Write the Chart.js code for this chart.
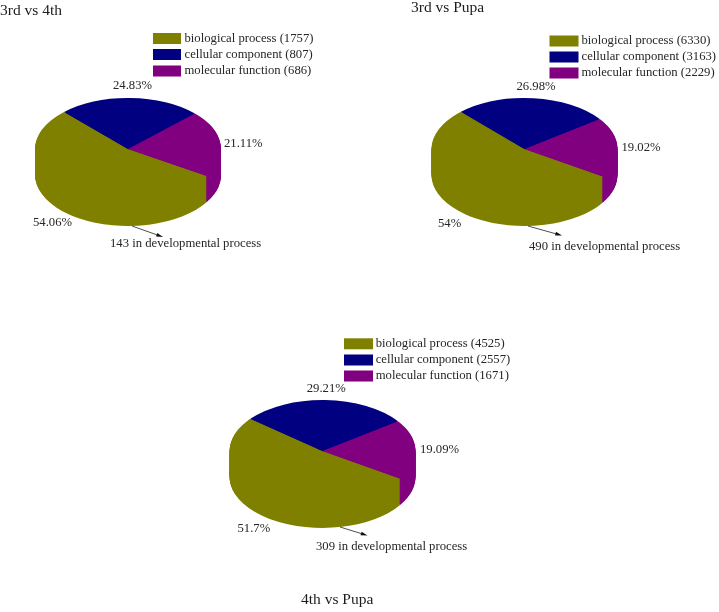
<!DOCTYPE html>
<html>
<head>
<meta charset="utf-8">
<script src="https://cdn.jsdelivr.net/npm/chart.js@4"></script>
<style>
html,body{margin:0;padding:0;background:#fff;width:719px;height:612px;overflow:hidden}
canvas{position:absolute;left:0;top:0}
</style>
</head>
<body>
<canvas id="c0"></canvas><canvas id="c1"></canvas><canvas id="c2"></canvas>
<script>
const categories = ['biological process', 'cellular component', 'molecular function'];
const colors = ['#808000', '#000080', '#800080'];
const titles = ['3rd vs 4th', '3rd vs Pupa', '4th vs Pupa'];
const counts3rdVs4th = [1757, 807, 686];
const counts3rdVsPupa = [6330, 3163, 2229];
const counts4thVsPupa = [4525, 2557, 1671];
const percents3rdVs4th = ['54.06%', '24.83%', '21.11%'];
const percents3rdVsPupa = ['54%', '26.98%', '19.02%'];
const percents4thVsPupa = ['51.7%', '29.21%', '19.09%'];
const devNotes = ['143 in developmental process', '490 in developmental process', '309 in developmental process'];

const W = 719, H = 612, RX = 93, FLAT = 0.548, DEPTH = 26;
const FONT = '"Liberation Serif", "Times New Roman", serif';
const INK = '#262626';

const layouts = [
  { cx: 128, cy: 149, rot: 122, title: [0, 11], swatchX: 153, swatchW: 28, swatchH: 11,
    legendY: [38.5, 54.5, 71], textX: 184.5,
    pct: [[33, 223], [113, 86], [224, 144]], note: [110, 244], arrow: [132, 226, 163, 237] },
  { cx: 524.5, cy: 149, rot: 122.5, title: [411, 8], swatchX: 549.5, swatchW: 29, swatchH: 11,
    legendY: [41, 57, 73], textX: 581.5,
    pct: [[438, 223.5], [516.5, 86.5], [621.5, 147.5]], note: [529, 247], arrow: [528, 226, 562, 235.5] },
  { cx: 322.5, cy: 451, rot: 123, title: [301, 600], swatchX: 344, swatchW: 29, swatchH: 11,
    legendY: [343.8, 360, 376], textX: 375.7,
    pct: [[237.5, 529], [306.7, 388.3], [420, 450]], note: [316, 546.5], arrow: [340, 527, 367.5, 535.5] }
];

const flatPie = {
  id: 'flatPie',
  beforeDatasetsDraw(chart) {
    const arcs = chart.getDatasetMeta(0).data;
    const ctx = chart.ctx;
    const { x, y } = arcs[0];
    for (let d = DEPTH; d >= 1; d--) {
      ctx.save();
      ctx.translate(x, y + d);
      ctx.scale(1, FLAT);
      ctx.translate(-x, -y);
      arcs.forEach(a => a.draw(ctx));
      ctx.restore();
    }
    ctx.save();
    ctx.translate(x, y);
    ctx.scale(1, FLAT);
    ctx.translate(-x, -y);
  },
  afterDatasetsDraw(chart) {
    chart.ctx.restore();
  }
};

const annotations = {
  id: 'annotations',
  afterDraw(chart, args, o) {
    const ctx = chart.ctx, L = o.layout;
    ctx.save();
    ctx.textBaseline = 'middle';
    ctx.textAlign = 'left';
    ctx.fillStyle = '#1c1c1c';
    ctx.font = '15.5px ' + FONT;
    ctx.fillText(o.title, L.title[0], L.title[1]);

    const ds = chart.data.datasets[0];
    ctx.font = '12.7px ' + FONT;
    chart.data.labels.forEach((lab, i) => {
      ctx.fillStyle = ds.backgroundColor[i];
      ctx.fillRect(L.swatchX, L.legendY[i] - L.swatchH / 2, L.swatchW, L.swatchH);
      ctx.fillStyle = INK;
      ctx.fillText(lab + ' (' + ds.data[i] + ')', L.textX, L.legendY[i]);
      ctx.fillText(o.percents[i], L.pct[i][0], L.pct[i][1]);
    });
    ctx.fillText(o.note, L.note[0], L.note[1]);

    const [x1, y1, x2, y2] = L.arrow;
    const a = Math.atan2(y2 - y1, x2 - x1);
    ctx.strokeStyle = '#222';
    ctx.lineWidth = 0.8;
    ctx.beginPath(); ctx.moveTo(x1, y1); ctx.lineTo(x2 - 4 * Math.cos(a), y2 - 4 * Math.sin(a)); ctx.stroke();
    ctx.fillStyle = '#111';
    ctx.beginPath();
    ctx.moveTo(x2, y2);
    ctx.lineTo(x2 - 7 * Math.cos(a - 0.28), y2 - 7 * Math.sin(a - 0.28));
    ctx.lineTo(x2 - 7 * Math.cos(a + 0.28), y2 - 7 * Math.sin(a + 0.28));
    ctx.closePath(); ctx.fill();
    ctx.restore();
  }
};

function pie(index, counts, percents) {
  const L = layouts[index];
  const canvas = document.getElementById('c' + index);
  canvas.width = W; canvas.height = H;
  new Chart(canvas, {
    type: 'pie',
    data: {
      labels: categories,
      datasets: [{ data: counts, backgroundColor: colors, borderWidth: 0, hoverOffset: 0 }]
    },
    options: {
      responsive: false,
      animation: false,
      rotation: L.rot,
      events: [],
      layout: { padding: { left: L.cx - RX, right: W - L.cx - RX, top: L.cy - RX, bottom: H - L.cy - RX } },
      plugins: {
        legend: { display: false },
        tooltip: { enabled: false },
        annotations: { layout: L, title: titles[index], percents, note: devNotes[index] }
      }
    },
    plugins: [flatPie, annotations]
  });
}

pie(0, counts3rdVs4th, percents3rdVs4th);
pie(1, counts3rdVsPupa, percents3rdVsPupa);
pie(2, counts4thVsPupa, percents4thVsPupa);
</script>
</body>
</html>
